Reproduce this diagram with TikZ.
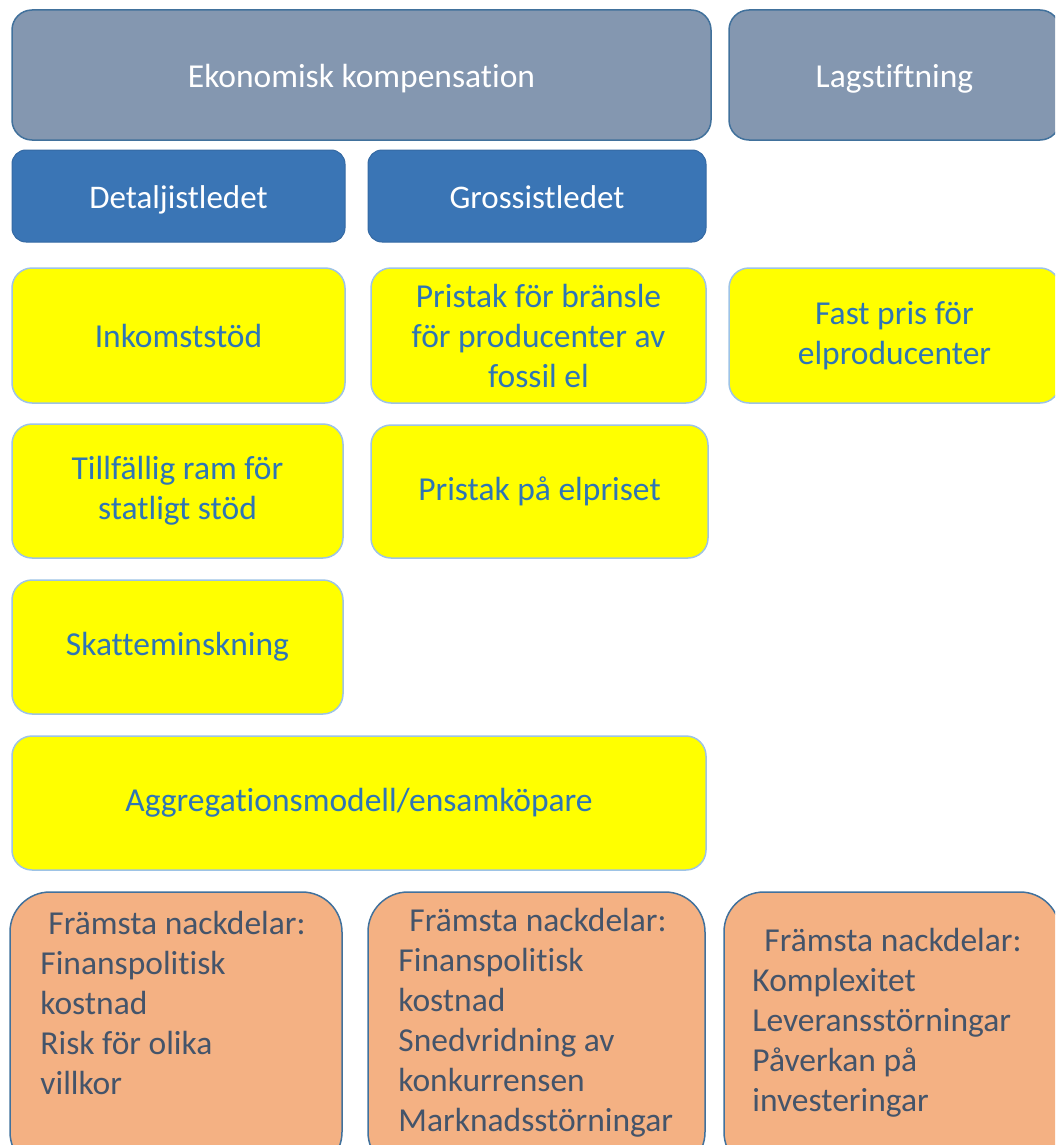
\documentclass[tikz,border=0pt]{standalone}
\usepackage{fontspec}
\setmainfont{Carlito}[Ligatures=NoCommon]
\usetikzlibrary{positioning}
\definecolor{hdgray}{HTML}{8497B0}
\definecolor{hdblue}{HTML}{3A75B5}
\definecolor{edgeblue}{HTML}{41719C}
\definecolor{optyellow}{HTML}{FFFF00}
\definecolor{optedge}{HTML}{9DC3E6}
\definecolor{opttext}{HTML}{2E75B6}
\definecolor{conorange}{HTML}{F4B183}
\definecolor{context}{HTML}{44546A}

\begin{document}
\begin{tikzpicture}[
    x=1pt, y=-1pt,
    head/.style={rectangle, rounded corners=20pt, draw=edgeblue, line width=1.5pt,
                 fill=hdgray, text=white, align=center,
                 text height=32pt, text depth=7pt,
                 font=\fontsize{33.5}{40}\selectfont},
    level/.style={rectangle, rounded corners=14pt, draw=hdblue!90!black, line width=1pt,
                  fill=hdblue, text=white, align=center, minimum height=92pt,
                  text height=32pt, text depth=7pt,
                  font=\fontsize{33}{40}\selectfont},
    opt/.style={rectangle, rounded corners=20pt, draw=optedge, line width=1.5pt,
                fill=optyellow, text=opttext, align=center,
                font=\fontsize{33.5}{40}\selectfont},
    con/.style={rectangle, rounded corners=40pt, draw=edgeblue, line width=1.5pt,
                fill=conorange, minimum width=335pt, minimum height=280pt},
    contxt/.style={anchor=north west, inner sep=0pt, align=left, text=context,
                   font=\fontsize{33.5}{40}\selectfont}
  ]

  % ---- Canvas ----
  \useasboundingbox (0,0) rectangle (1055,1145);
  \clip (0,0) rectangle (1055,1145);

  % ============ HEADINGS ============
  \node[head, minimum width=699pt, minimum height=130pt] (EK) at (361.5,75) {Ekonomisk kompensation};
  \node[head, minimum width=331pt, minimum height=130pt] (LAG) at (894.5,75) {Lagstiftning};

  \node[level, minimum width=333pt] (DET) at (178.5,196) {Detaljistledet};
  \node[level, minimum width=338pt] (GRO) at (537,196) {Grossistledet};

  % ============ MEASURES ============
  \node[opt, minimum width=333pt, minimum height=135pt] (INK) at (178.5,335.5) {Inkomststöd};
  \node[opt, minimum width=335pt, minimum height=135pt] (PRB) at (538.5,335.5)
    {Pristak för bränsle\\för producenter av\\fossil el};
  \node[opt, minimum width=331pt, minimum height=135pt] (FPR) at (894.5,335.5)
    {Fast pris för\\elproducenter};

  \node[opt, minimum width=331pt, minimum height=134pt] (TIL) at (177.5,491)
    {Tillfällig ram för\\statligt stöd};
  \node[opt, minimum width=337pt, minimum height=133pt] (PEL) at (539.5,491.5) {Pristak på elpriset};

  \node[opt, minimum width=331pt, minimum height=134pt] (SKA) at (177.5,647) {Skatteminskning};

  \node[opt, minimum width=694pt, minimum height=134pt] (AGG) at (359,803) {Aggregationsmodell/ensamköpare};

  % ============ DRAWBACKS ============
  \node[con, minimum width=332pt] (ND1) at (176,1032) {};
  \node[con, minimum width=337pt] (ND2) at (536.5,1032) {};
  \node[con, minimum width=336pt] (ND3) at (892,1032) {};

  \node[contxt] (ND1txt) at ([xshift=31pt, yshift=-20pt]ND1.north west)
    {\hspace{8pt}Främsta nackdelar:\\Finanspolitisk\\kostnad\\Risk för olika\\villkor};
  \node[contxt] (ND2txt) at ([xshift=31pt, yshift=-17pt]ND2.north west)
    {\hspace{11pt}Främsta nackdelar:\\Finanspolitisk\\kostnad\\Snedvridning av\\konkurrensen\\Marknadsstörningar};
  \node[contxt] (ND3txt) at ([xshift=29pt, yshift=-37pt]ND3.north west)
    {\hspace{12pt}Främsta nackdelar:\\Komplexitet\\Leveransstörningar\\Påverkan på\\investeringar};

\end{tikzpicture}
\end{document}
